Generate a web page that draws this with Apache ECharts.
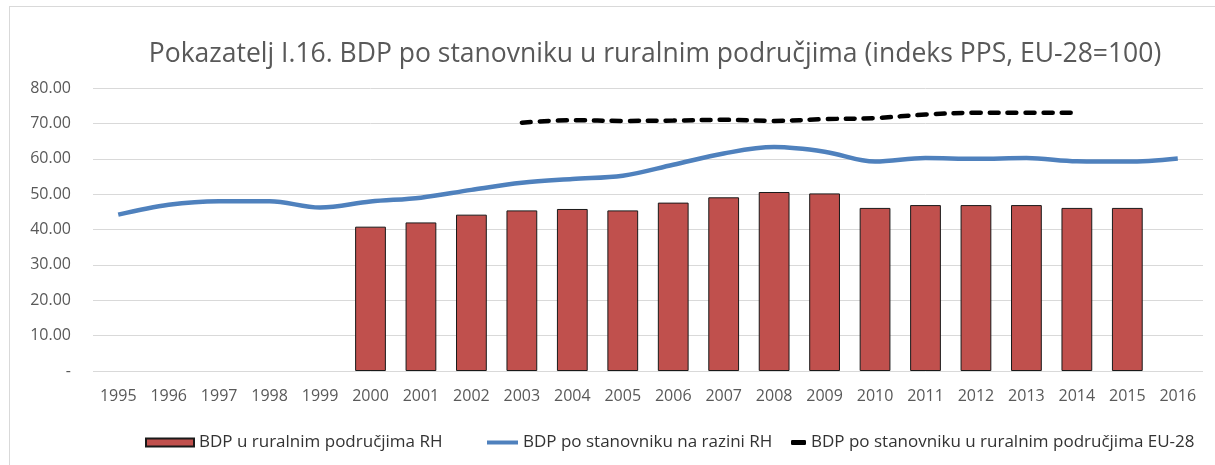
<!DOCTYPE html>
<html>
<head>
<meta charset="utf-8">
<script src="https://cdn.jsdelivr.net/npm/echarts@6/dist/echarts.min.js"></script>
<style>
html,body{margin:0;padding:0;background:#fff;}
#frame{position:absolute;left:9px;top:6px;width:1215px;height:470px;border-left:1px solid #d9d9d9;border-top:1px solid #d9d9d9;}
#chart{position:absolute;left:0;top:0;width:1215px;height:465px;}
</style>
</head>
<body>
<div id="frame"></div>
<div id="chart"></div>
<script>
var titleText = 'Pokazatelj I.16. BDP po stanovniku u ruralnim područjima (indeks PPS, EU-28=100)';
var years = ['1995','1996','1997','1998','1999','2000','2001','2002','2003','2004','2005','2006','2007','2008','2009','2010','2011','2012','2013','2014','2015','2016'];
var seriesNames = ['BDP u ruralnim područjima RH','BDP po stanovniku na razini RH','BDP po stanovniku u ruralnim područjima EU-28'];
var ruralRH = [null,null,null,null,null,40.8,42.0,44.2,45.4,45.8,45.4,47.6,49.1,50.6,50.2,46.1,46.9,46.9,46.9,46.1,46.1,null];
var nationalRH = [44.2,47.0,48.0,48.0,46.2,47.9,49.0,51.2,53.2,54.3,55.2,58.3,61.5,63.3,62.0,59.2,60.2,60.0,60.2,59.3,59.2,60.1];
var ruralEU = [null,null,null,null,null,null,null,null,70.2,70.9,70.7,70.8,71.0,70.7,71.2,71.5,72.5,73.0,73.0,73.0,null,null];

var font = 'Open Sans';
var txt = '#595959';
function measure(s, size){
  var c = document.createElement('canvas').getContext('2d');
  c.font = size + 'px "' + font + '"';
  return c.measureText(s).width;
}
var titleSize = 26.5;
var titleLeft = 650 - measure(titleText, titleSize)/2;

var chart = echarts.init(document.getElementById('chart'));
var legendText = {fontFamily:font,fontSize:17,color:'#333'};
chart.setOption({
  animation:false,
  title:{text:titleText,left:titleLeft,top:36,textStyle:{fontFamily:font,fontSize:titleSize,fontWeight:'normal',color:txt}},
  grid:{left:93,right:12,top:88,bottom:94},
  legend:[
    {data:[{name:seriesNames[0],icon:'rect'}],left:140,top:429,itemWidth:48,itemHeight:8,itemGap:10,textStyle:legendText},
    {data:[{name:seriesNames[1],icon:'rect',itemStyle:{color:'#4F81BD',borderWidth:0}}],left:482,top:429,itemWidth:31,itemHeight:4,itemGap:4,textStyle:legendText},
    {data:[{name:seriesNames[2],icon:'roundRect',itemStyle:{color:'#000',borderWidth:0}}],left:786,top:429,itemWidth:15,itemHeight:5,itemGap:12,textStyle:legendText}
  ],
  xAxis:{type:'category',data:years,boundaryGap:true,
    axisLine:{show:false},axisTick:{show:false},
    axisLabel:{fontFamily:font,fontSize:16,color:txt,margin:17}},
  yAxis:{type:'value',min:0,max:80,interval:10,
    axisLine:{show:false},axisTick:{show:false},
    splitLine:{lineStyle:{color:'#d9d9d9',width:1}},
    axisLabel:{fontFamily:font,fontSize:16,color:txt,margin:22,
      formatter:function(v){return v===0?'-':v.toFixed(2);}}},
  series:[
    {name:seriesNames[0],type:'bar',data:ruralRH,barWidth:'61%',
      itemStyle:{color:'#C0504D',borderColor:'#1a1a1a',borderWidth:1}},
    {name:seriesNames[1],type:'line',data:nationalRH,smooth:0.35,symbol:'none',
      lineStyle:{color:'#4F81BD',width:4.5},itemStyle:{color:'#4F81BD'}},
    {name:seriesNames[2],type:'line',data:ruralEU,smooth:0.35,symbol:'none',
      lineStyle:{color:'#000',width:4.5,type:[9,9],cap:'round'},itemStyle:{color:'#000'}}
  ]
});
</script>
</body>
</html>
